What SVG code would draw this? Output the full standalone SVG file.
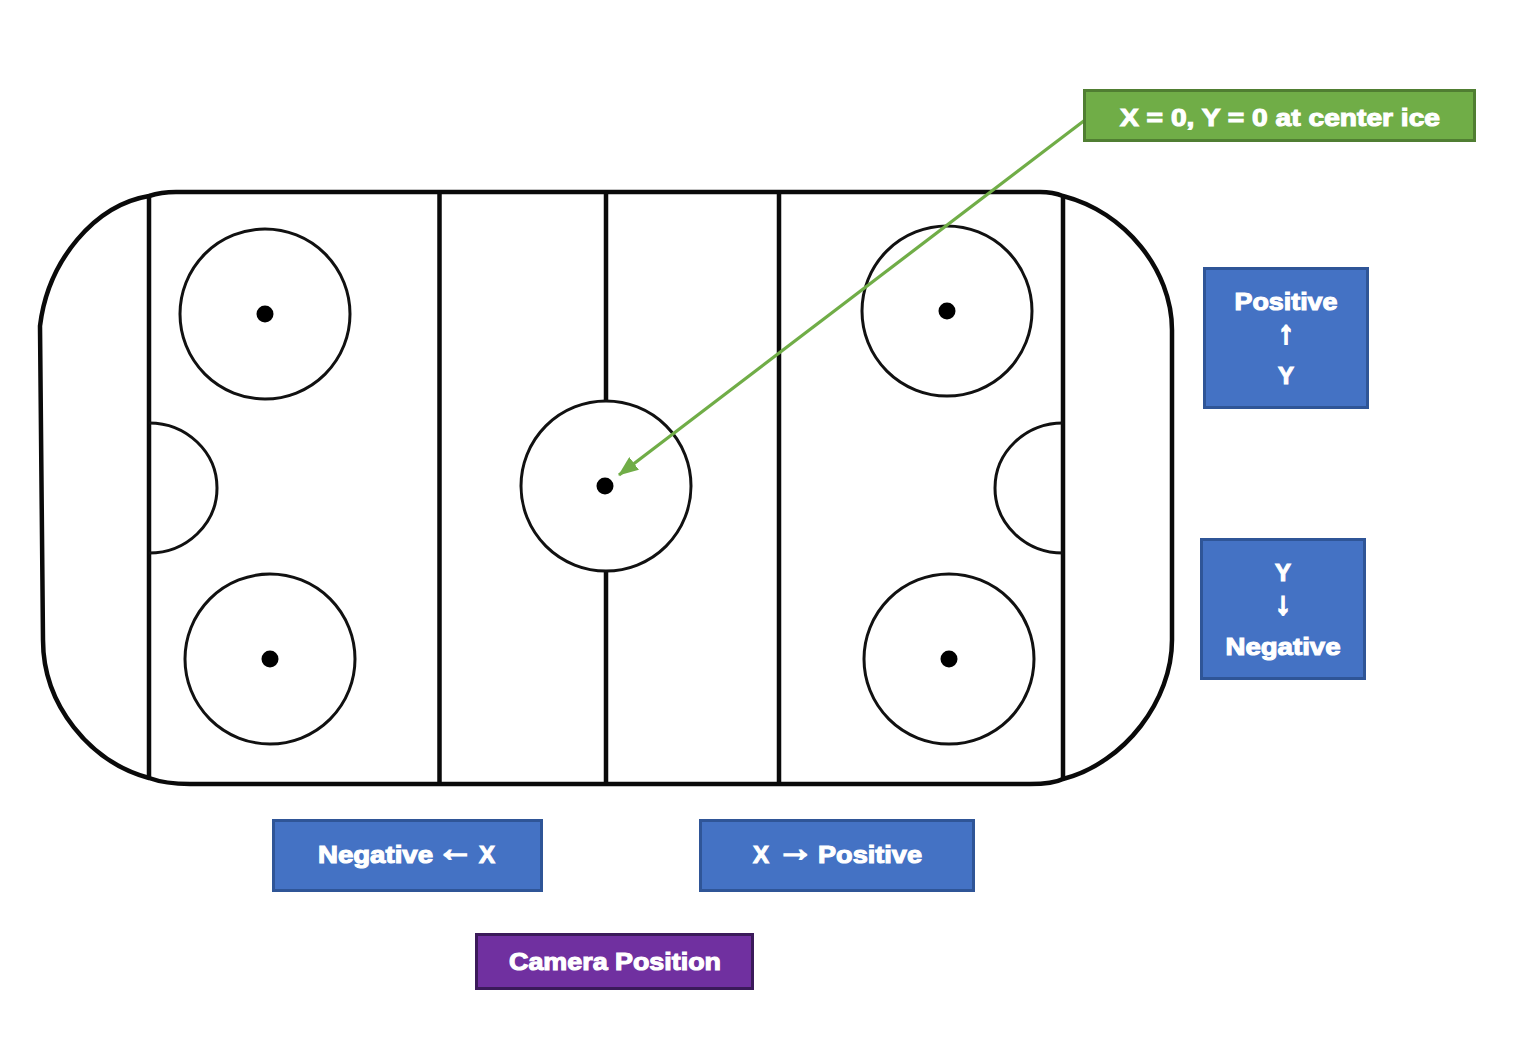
<svg xmlns="http://www.w3.org/2000/svg" width="1515" height="1053" viewBox="0 0 1515 1053">
<style>
.rink{fill:none;stroke:#0a0a0a;stroke-width:4.500}
.line{fill:none;stroke:#0a0a0a;stroke-width:4.500}
.circ{fill:none;stroke:#111;stroke-width:3}
.dot{fill:#000}
.blue{fill:#4472c4;stroke:#2f5597;stroke-width:3}
.green{fill:#70ad47;stroke:#507e32;stroke-width:3}
.purple{fill:#7030a0;stroke:#3b1a5a;stroke-width:3}
.t{font-family:"Liberation Sans",Arial,sans-serif;font-weight:700;font-size:24px;fill:#fff;stroke:#fff;stroke-width:1.100;text-anchor:middle}
.s{text-anchor:start}
.ah{font-size:37px;stroke-width:1.800}
.av{font-size:31px;stroke-width:2.200}
.conn{fill:none;stroke:#70ad47;stroke-width:3.200}
</style>
<defs>
<marker id="ah" markerUnits="userSpaceOnUse" markerWidth="20" markerHeight="16" refX="19" refY="8" orient="auto"><path d="M0 0L20 8L0 16Z" fill="#70ad47"/></marker>
</defs>
<rect width="1515" height="1053" fill="#fff"/>
<g id="rink">
<path class="rink" d="M176 192H1040C1050 192 1058 194 1063 196C1125 212 1172 270 1172 330V640C1172 700 1125 763 1063 779C1055 783 1045 784 1030 784H190C175 784 160 782 149 778C90 762 43 705 43 640L40 326C48 260 95 205 149 196C158 193 165 192 176 192Z"/>
<path class="line" d="M149 196V778M439.500 192V784M606 192V402M606 571V784M779 192V784M1063 196V779"/>
<circle class="circ" cx="265" cy="314" r="85"/>
<circle class="circ" cx="270" cy="659" r="85"/>
<circle class="circ" cx="606" cy="486" r="85"/>
<circle class="circ" cx="947" cy="311" r="85"/>
<circle class="circ" cx="949" cy="659" r="85"/>
<path class="circ" d="M149 423A68 65 0 0 1 149 553M1063 423A68 65 0 0 0 1063 553"/>
<circle class="dot" cx="265" cy="314" r="8.500"/>
<circle class="dot" cx="270" cy="659" r="8.500"/>
<circle class="dot" cx="605" cy="486" r="8.500"/>
<circle class="dot" cx="947" cy="311" r="8.500"/>
<circle class="dot" cx="949" cy="659" r="8.500"/>
</g>
<g id="connectors">
<path class="conn" d="M1085 120L619 475" marker-end="url(#ah)"/>
</g>
<g id="node-origin">
<rect class="green" x="1084.500" y="90.500" width="390" height="50"/>
<text class="t" x="1280" y="126" textLength="320" lengthAdjust="spacingAndGlyphs">X = 0, Y = 0 at center ice</text>
</g>
<g id="node-positive-y">
<rect class="blue" x="1204.500" y="268.500" width="163" height="139"/>
<text class="t" x="1286" y="310" textLength="103" lengthAdjust="spacingAndGlyphs">Positive</text>
<text class="t av" x="1286" y="343">↑</text>
<text class="t" x="1286" y="384">Y</text>
</g>
<g id="node-negative-y">
<rect class="blue" x="1201.500" y="539.500" width="163" height="139"/>
<text class="t" x="1283" y="581">Y</text>
<text class="t av" x="1283" y="614">↓</text>
<text class="t" x="1283" y="655" textLength="115" lengthAdjust="spacingAndGlyphs">Negative</text>
</g>
<g id="node-negative-x">
<rect class="blue" x="273.500" y="820.500" width="268" height="70"/>
<text class="t s" y="863"><tspan x="318" textLength="115" lengthAdjust="spacingAndGlyphs">Negative</tspan> <tspan class="ah" x="436.500" y="861">←</tspan> <tspan x="479" y="863">X</tspan></text>
</g>
<g id="node-positive-x">
<rect class="blue" x="700.500" y="820.500" width="273" height="70"/>
<text class="t s" y="863"><tspan x="753">X</tspan> <tspan class="ah" x="776.500" y="861">→</tspan> <tspan x="818" y="863" textLength="104" lengthAdjust="spacingAndGlyphs">Positive</tspan></text>
</g>
<g id="node-camera">
<rect class="purple" x="476.500" y="934.500" width="276" height="54"/>
<text class="t" x="615" y="970" textLength="212" lengthAdjust="spacingAndGlyphs">Camera Position</text>
</g>
</svg>
